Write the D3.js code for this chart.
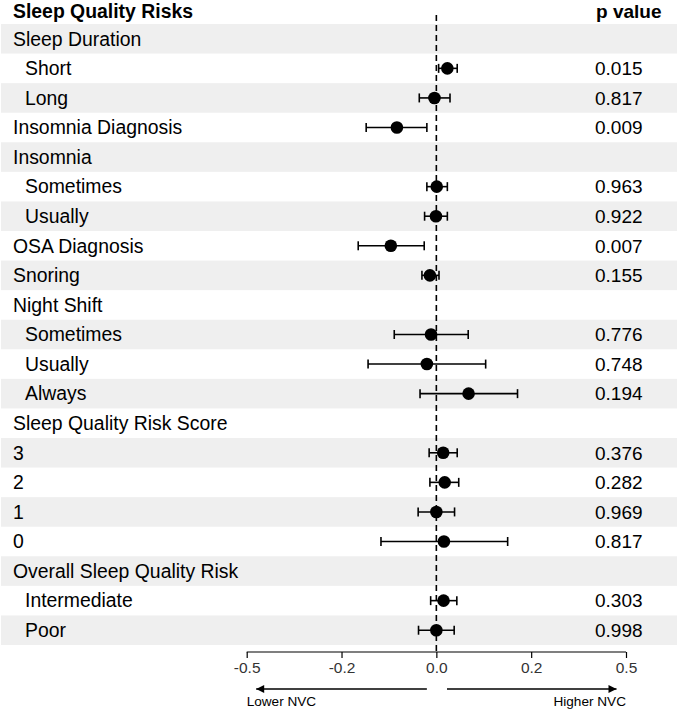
<!DOCTYPE html>
<html lang="en">
<head>
  <title>Sleep Quality Risks</title>
  <script src="https://cdn.jsdelivr.net/npm/d3@7"></script>
  <style>
    body { margin: 0; background: #fff; }
    text { font-family: "Liberation Sans", Arial, Helvetica, sans-serif; }
  </style>
</head>
<body>
  <script>
    // rows of the forest plot
    const labels = ["Sleep Duration", "Short", "Long", "Insomnia Diagnosis", "Insomnia", "Sometimes", "Usually",
      "OSA Diagnosis", "Snoring", "Night Shift", "Sometimes", "Usually", "Always", "Sleep Quality Risk Score",
      "3", "2", "1", "0", "Overall Sleep Quality Risk", "Intermediate", "Poor"];
    const indented = [0, 1, 1, 0, 0, 1, 1, 0, 0, 0, 1, 1, 1, 0, 0, 0, 0, 0, 0, 1, 1];
    const estimate = [null, 0.029, -0.005, -0.104, null, 0.001, -0.001, -0.120, -0.017, null, -0.014, -0.025, 0.085,
      null, 0.018, 0.022, 0.000, 0.020, null, 0.019, 0.000];
    const lower = [null, 0.006, -0.045, -0.185, null, -0.025, -0.031, -0.206, -0.038, null, -0.111, -0.180, -0.043,
      null, -0.019, -0.017, -0.048, -0.146, null, -0.015, -0.047];
    const upper = [null, 0.055, 0.036, -0.025, null, 0.029, 0.029, -0.032, 0.007, null, 0.084, 0.130, 0.214,
      null, 0.055, 0.059, 0.048, 0.188, null, 0.054, 0.047];
    const pValues = ["", "0.015", "0.817", "0.009", "", "0.963", "0.922", "0.007", "0.155", "", "0.776", "0.748", "0.194",
      "", "0.376", "0.282", "0.969", "0.817", "", "0.303", "0.998"];
    const tickValues = [-0.5, -0.25, 0, 0.25, 0.5];
    const tickLabels = ["-0.5", "-0.2", "0.0", "0.2", "0.5"];

    const rows = labels.map((d, i) => ({
      i: i, label: d, indent: indented[i], est: estimate[i], lo: lower[i], hi: upper[i], p: pValues[i]
    }));

    const width = 679, height = 710;
    const svg = d3.select("body").append("svg")
      .attr("width", width)
      .attr("height", height);

    // scales
    const x = d3.scaleLinear().domain([-0.5, 0.5]).range([246.7, 626]);
    const y = d3.scaleBand().domain(rows.map(d => d.i)).range([24, 645]).padding(0);
    const mid = i => y(i) + y.bandwidth() / 2;

    // alternating bands
    svg.selectAll(".band").data(rows.filter(d => d.i % 2 === 0)).join("rect")
      .attr("class", "band")
      .attr("x", 1)
      .attr("width", 676)
      .attr("y", d => y(d.i))
      .attr("height", y.bandwidth())
      .attr("fill", "#efefef");

    // headers
    svg.append("text").text("Sleep Quality Risks")
      .attr("x", 13).attr("y", 17.5)
      .attr("font-size", 19.4).attr("font-weight", "bold").attr("fill", "#000");
    svg.append("text").text("p value")
      .attr("x", 596).attr("y", 17.5)
      .attr("font-size", 19).attr("font-weight", "bold").attr("fill", "#000");

    // row labels and p values
    svg.selectAll(".lab").data(rows).join("text")
      .attr("class", "lab")
      .attr("x", d => d.indent ? 25 : 13)
      .attr("y", d => mid(d.i) + 6.8)
      .attr("font-size", 19.4)
      .attr("fill", "#000")
      .text(d => d.label);
    svg.selectAll(".pv").data(rows).join("text")
      .attr("class", "pv")
      .attr("x", 595)
      .attr("y", d => mid(d.i) + 6.8)
      .attr("font-size", 19)
      .attr("fill", "#000")
      .text(d => d.p);

    // reference line at zero
    svg.append("line")
      .attr("x1", x(0)).attr("x2", x(0))
      .attr("y1", 15).attr("y2", 652)
      .attr("stroke", "#000").attr("stroke-width", 1.6)
      .attr("stroke-dasharray", "6,4");

    // confidence intervals
    const est = rows.filter(d => d.est !== null);
    const ci = svg.selectAll(".ci").data(est).join("g").attr("class", "ci");
    ci.append("line")
      .attr("x1", d => x(d.lo)).attr("x2", d => x(d.hi))
      .attr("y1", d => mid(d.i)).attr("y2", d => mid(d.i))
      .attr("stroke", "#000").attr("stroke-width", 1.6);
    ci.append("line")
      .attr("x1", d => x(d.lo)).attr("x2", d => x(d.lo))
      .attr("y1", d => mid(d.i) - 4.5).attr("y2", d => mid(d.i) + 4.5)
      .attr("stroke", "#000").attr("stroke-width", 1.6);
    ci.append("line")
      .attr("x1", d => x(d.hi)).attr("x2", d => x(d.hi))
      .attr("y1", d => mid(d.i) - 4.5).attr("y2", d => mid(d.i) + 4.5)
      .attr("stroke", "#000").attr("stroke-width", 1.6);
    ci.append("circle")
      .attr("cx", d => x(d.est)).attr("cy", d => mid(d.i))
      .attr("r", 6.3).attr("fill", "#000");

    // x axis
    const xAxis = d3.axisBottom(x)
      .tickValues(tickValues)
      .tickFormat((d, i) => tickLabels[i])
      .tickSize(6)
      .tickPadding(4);
    const axisG = svg.append("g")
      .attr("transform", "translate(0, 652)")
      .call(xAxis);
    axisG.select(".domain").attr("d", `M${x(-0.5)},0H${x(0.5)}`).attr("stroke", "#000").attr("stroke-width", 1.2);
    axisG.selectAll(".tick line").attr("stroke", "#000").attr("stroke-width", 1.2);
    axisG.selectAll(".tick text")
      .attr("font-size", 15.5)
      .attr("fill", "#333")
      .style("font-family", "'Liberation Sans', Arial, sans-serif");

    // direction arrows
    const defs = svg.append("defs");
    defs.append("marker")
      .attr("id", "arrow")
      .attr("viewBox", "0 0 10 10")
      .attr("refX", 10).attr("refY", 5)
      .attr("markerWidth", 10).attr("markerHeight", 8)
      .attr("markerUnits", "userSpaceOnUse")
      .attr("orient", "auto")
      .append("path").attr("d", "M0,0L10,5L0,10Z").attr("fill", "#000");
    svg.append("line")
      .attr("x1", x(-0.025)).attr("x2", x(-0.475))
      .attr("y1", 689).attr("y2", 689)
      .attr("stroke", "#000").attr("stroke-width", 1.3)
      .attr("marker-end", "url(#arrow)");
    svg.append("line")
      .attr("x1", x(0.028)).attr("x2", x(0.475))
      .attr("y1", 689).attr("y2", 689)
      .attr("stroke", "#000").attr("stroke-width", 1.3)
      .attr("marker-end", "url(#arrow)");
    svg.append("text").text("Lower NVC")
      .attr("x", x(-0.5)).attr("y", 706)
      .attr("font-size", 13.6).attr("fill", "#000");
    svg.append("text").text("Higher NVC")
      .attr("x", x(0.5)).attr("y", 706)
      .attr("text-anchor", "end")
      .attr("font-size", 13.6).attr("fill", "#000");
  </script>
</body>
</html>
